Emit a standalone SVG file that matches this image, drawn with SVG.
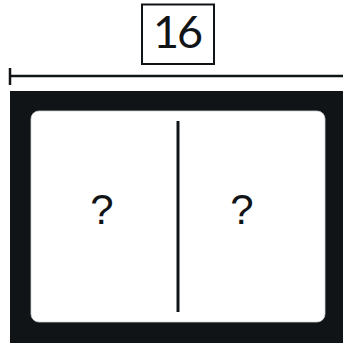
<svg xmlns="http://www.w3.org/2000/svg" width="343" height="346" viewBox="0 0 343 346">
<style>
.dark{fill:#111417}
.ln{stroke:#111417;fill:none}
.q{font-family:"Liberation Sans",Arial,sans-serif;font-size:42px;fill:#111417;text-anchor:middle}
.lbl{font-family:Lato,"Liberation Sans",sans-serif;font-size:45px;letter-spacing:-2px;fill:#111417;text-anchor:middle}
</style>
<g id="dimension">
<line class="ln" x1="10" y1="76" x2="343" y2="76" stroke-width="2.5"/>
<line class="ln" x1="10" y1="68" x2="10" y2="85" stroke-width="2.5"/>
</g>
<g id="label">
<rect class="ln" x="142" y="4.5" width="72" height="59.5" stroke-width="2"/>
<text class="lbl" x="177" y="48">16</text>
</g>
<g id="frame">
<rect class="dark" x="10" y="91" width="333" height="252"/>
<rect x="31" y="111" width="294" height="211" rx="8" fill="#fff" stroke="#cfd0d1" stroke-width="0.8"/>
</g>
<g id="connectors">
<line class="ln" x1="178" y1="121" x2="178" y2="312" stroke-width="3"/>
</g>
<g id="left"><text class="q" x="102" y="224">?</text></g>
<g id="right"><text class="q" x="242" y="224">?</text></g>
</svg>
